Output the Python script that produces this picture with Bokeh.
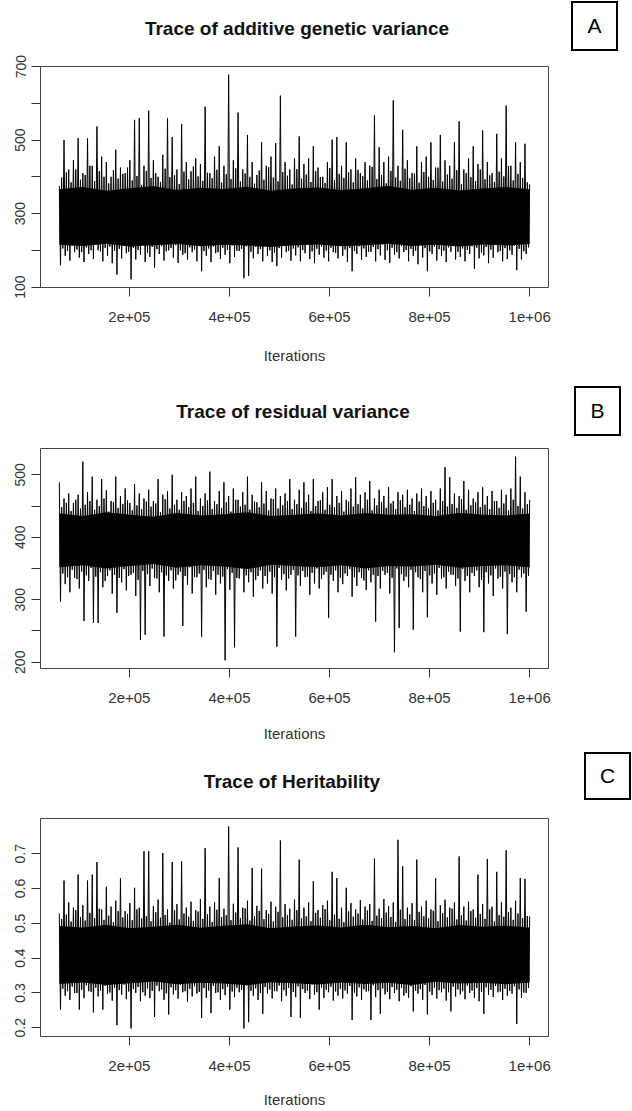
import numpy as np
from bokeh.plotting import figure
from bokeh.layouts import column
from bokeh.models import FixedTicker, Range1d, Div
from bokeh.embed import file_html
from bokeh.resources import INLINE

# ---------------- data ----------------
iterations = np.arange(60000, 1000001, 2350)          # 401 stored MCMC samples
core_iterations = np.arange(60000, 1000001, 47000)    # outline of the dense band

x_ticks = [200000, 400000, 600000, 800000, 1000000]
x_tick_labels = ["2e+05", "4e+05", "6e+05", "8e+05", "1e+06"]
x_label = "Iterations"

# Panel A: additive genetic variance (extremes)
a_title = "Trace of additive genetic variance"
a_tag = "A"
a_peaks = [375, 500, 420, 445, 505, 410, 505, 430, 537, 455,
           440, 400, 474, 425, 410, 445, 555, 560, 430, 580,
           445, 400, 460, 560, 508, 420, 544, 440, 415, 450,
           435, 591, 410, 455, 483, 430, 678, 445, 575, 420,
           514, 440, 405, 494, 430, 455, 492, 621, 440, 420,
           450, 510, 435, 450, 483, 425, 400, 440, 501, 508,
           430, 494, 420, 450, 410, 440, 430, 567, 480, 440,
           455, 608, 430, 528, 445, 410, 483, 440, 455, 494,
           425, 514, 445, 430, 494, 551, 420, 450, 483, 435,
           526, 440, 410, 517, 450, 594, 430, 494, 440, 490,
           380]
a_troughs = [159, 185, 172, 195, 180, 168, 190, 176, 200, 170,
             185, 165, 134, 178, 192, 121, 175, 188, 168, 182,
             153, 190, 172, 200, 180, 166, 188, 175, 195, 170,
             143, 185, 168, 192, 176, 188, 165, 182, 198, 124,
             130, 178, 190, 170, 185, 168, 157, 180, 195, 172,
             186, 170, 192, 176, 165, 188, 180, 170, 195, 178,
             185, 168, 143, 190, 175, 182, 196, 170, 186, 174,
             166, 188, 178, 195, 170, 185, 162, 180, 143, 190,
             172, 185, 168, 196, 175, 182, 170, 190, 150, 178,
             186, 165, 180, 195, 170, 176, 188, 146, 175, 190]
a_inner_peaks = [398, 412, 385, 420, 392, 405, 430, 388, 415, 400,
                 382, 418, 395, 408, 425, 390, 402, 378, 416, 397,
                 410, 386, 422, 399, 404, 380, 414, 393, 428, 401,
                 389, 411, 396, 419, 384, 407, 394, 423, 387, 409,
                 400, 381, 417, 392, 426, 398, 388, 413, 403, 379,
                 421, 395, 406, 386, 415, 399, 383, 424, 391, 408,
                 397, 412, 385, 419, 402, 390, 427, 394, 405, 382,
                 416, 398, 389, 422, 396, 409, 384, 413, 400, 391,
                 425, 387, 406, 395, 418, 380, 410, 399, 388, 420,
                 393, 404, 386, 414, 401, 429, 390, 408, 397, 385]
a_inner_troughs = [205, 198, 212, 202, 195, 208, 200, 215, 197, 206,
                   210, 199, 204, 213, 196, 207, 201, 218, 194, 209,
                   203, 211, 197, 206, 214, 200, 192, 208, 202, 216,
                   198, 205, 210, 195, 207, 201, 213, 199, 204, 211,
                   196, 209, 203, 217, 200, 194, 206, 212, 198, 205,
                   208, 201, 215, 197, 204, 210, 199, 207, 193, 213,
                   202, 206, 198, 211, 205, 196, 209, 203, 216, 200,
                   207, 195, 212, 201, 204, 198, 214, 206, 197, 210,
                   203, 199, 208, 213, 196, 205, 201, 211, 207, 194,
                   209, 202, 215, 198, 206, 200, 212, 204, 197, 208]
a_core_low = [215, 212, 218, 210, 214, 217, 211, 215, 213, 209, 214,
              216, 211, 214, 218, 212, 215, 210, 216, 213, 217]
a_core_high = [366, 372, 362, 369, 374, 364, 370, 367, 373, 362, 368,
               371, 364, 369, 375, 365, 370, 363, 368, 372, 366]
a_y_ticks = [100, 200, 300, 400, 500, 600, 700]
a_y_tick_labels = ["100", "", "300", "", "500", "", "700"]

# Panel B: residual variance
b_title = "Trace of residual variance"
b_tag = "B"
b_peaks = [488, 462, 470, 455, 468, 521, 472, 497, 460, 493,
           475, 458, 497, 466, 478, 455, 485, 470, 462, 476,
           458, 493, 468, 474, 500, 460, 472, 466, 478, 497,
           462, 470, 505, 458, 474, 488, 466, 478, 460, 472,
           497, 468, 456, 488, 474, 462, 478, 466, 470, 493,
           460, 476, 488, 468, 493, 458, 472, 480, 493, 466,
           474, 460, 478, 496, 468, 472, 490, 462, 476, 466,
           480, 458, 472, 468, 476, 462, 470, 478, 466, 474,
           460, 478, 512, 496, 470, 466, 490, 476, 462, 472,
           480, 466, 474, 458, 476, 468, 478, 529, 497, 472,
           460]
b_troughs = [297, 325, 312, 335, 318, 266, 330, 263, 263, 320,
             338, 310, 279, 328, 315, 340, 306, 236, 244, 322,
             335, 312, 241, 330, 318, 340, 258, 324, 310, 336,
             241, 320, 332, 308, 326, 203, 316, 224, 334, 312,
             328, 305, 338, 318, 326, 310, 225, 332, 315, 340,
             241, 322, 336, 308, 326, 318, 340, 271, 330, 312,
             325, 338, 305, 322, 335, 316, 328, 265, 318, 340,
             310, 216, 255, 330, 320, 252, 336, 312, 272, 326,
             308, 334, 318, 340, 322, 249, 330, 312, 338, 320,
             248, 326, 306, 334, 318, 245, 328, 312, 336, 281]
b_inner_peaks = [448, 455, 442, 460, 446, 452, 458, 444, 450, 462,
                 441, 456, 447, 453, 459, 443, 451, 445, 457, 449,
                 454, 440, 461, 446, 452, 444, 458, 448, 455, 442,
                 450, 459, 445, 453, 447, 456, 441, 460, 449, 452,
                 444, 457, 448, 454, 443, 461, 446, 451, 458, 445,
                 453, 447, 456, 442, 450, 459, 444, 452, 448, 455,
                 441, 457, 449, 453, 446, 460, 443, 451, 456, 447,
                 454, 445, 459, 448, 452, 442, 457, 450, 446, 455,
                 443, 458, 449, 453, 447, 461, 444, 451, 456, 448,
                 452, 445, 458, 447, 454, 443, 460, 450, 446, 453]
b_inner_troughs = [342, 336, 348, 333, 345, 339, 351, 337, 344, 330,
                   347, 340, 335, 349, 338, 343, 332, 346, 341, 350,
                   334, 344, 339, 347, 331, 345, 338, 352, 336, 342,
                   348, 333, 346, 340, 337, 349, 343, 335, 350, 339,
                   344, 332, 347, 338, 345, 336, 351, 341, 334, 348,
                   339, 346, 337, 343, 350, 333, 345, 340, 347, 335,
                   342, 349, 336, 344, 331, 347, 340, 338, 346, 343,
                   335, 350, 341, 337, 348, 344, 333, 346, 339, 342,
                   351, 336, 345, 340, 334, 349, 338, 343, 347, 332,
                   344, 339, 350, 337, 345, 341, 336, 348, 342, 338]
b_core_low = [352, 355, 350, 354, 357, 351, 355, 353, 349, 356, 354,
              352, 355, 350, 354, 353, 356, 351, 354, 355, 352]
b_core_high = [438, 434, 440, 436, 433, 439, 435, 437, 440, 434, 436,
               438, 435, 439, 436, 437, 434, 439, 436, 435, 438]
b_y_ticks = [200, 250, 300, 350, 400, 450, 500]
b_y_tick_labels = ["200", "", "300", "", "400", "", "500"]

# Panel C: heritability
c_title = "Trace of Heritability"
c_tag = "C"
c_peaks = [0.528, 0.623, 0.560, 0.545, 0.640, 0.552, 0.623, 0.640, 0.676, 0.540,
           0.605, 0.548, 0.565, 0.630, 0.535, 0.558, 0.602, 0.545, 0.707, 0.707,
           0.550, 0.568, 0.702, 0.540, 0.676, 0.555, 0.678, 0.545, 0.562, 0.538,
           0.570, 0.716, 0.548, 0.560, 0.630, 0.542, 0.778, 0.556, 0.718, 0.545,
           0.565, 0.659, 0.550, 0.657, 0.538, 0.562, 0.548, 0.738, 0.555, 0.542,
           0.568, 0.683, 0.545, 0.560, 0.621, 0.538, 0.552, 0.565, 0.648, 0.630,
           0.545, 0.602, 0.558, 0.540, 0.566, 0.548, 0.555, 0.686, 0.542, 0.570,
           0.550, 0.560, 0.740, 0.664, 0.545, 0.558, 0.683, 0.548, 0.565, 0.540,
           0.630, 0.552, 0.568, 0.545, 0.560, 0.692, 0.548, 0.562, 0.540, 0.640,
           0.555, 0.685, 0.548, 0.648, 0.560, 0.710, 0.545, 0.565, 0.630, 0.628,
           0.520]
c_troughs = [0.252, 0.292, 0.280, 0.300, 0.252, 0.285, 0.305, 0.244, 0.290, 0.252,
             0.298, 0.278, 0.207, 0.295, 0.282, 0.198, 0.300, 0.276, 0.292, 0.285,
             0.231, 0.305, 0.280, 0.238, 0.296, 0.284, 0.302, 0.275, 0.290, 0.298,
             0.228, 0.286, 0.242, 0.300, 0.280, 0.294, 0.252, 0.288, 0.302, 0.198,
             0.216, 0.292, 0.280, 0.240, 0.298, 0.284, 0.305, 0.276, 0.292, 0.231,
             0.288, 0.228, 0.300, 0.282, 0.295, 0.252, 0.286, 0.302, 0.278, 0.292,
             0.284, 0.298, 0.222, 0.290, 0.280, 0.304, 0.222, 0.288, 0.240, 0.296,
             0.282, 0.300, 0.276, 0.292, 0.286, 0.247, 0.298, 0.280, 0.238, 0.294,
             0.284, 0.302, 0.278, 0.247, 0.290, 0.296, 0.282, 0.300, 0.286, 0.276,
             0.240, 0.294, 0.288, 0.302, 0.280, 0.292, 0.298, 0.211, 0.286, 0.300]
c_inner_peaks = [0.512, 0.525, 0.505, 0.538, 0.518, 0.508, 0.530, 0.515, 0.542, 0.510,
                 0.522, 0.503, 0.535, 0.517, 0.527, 0.509, 0.540, 0.514, 0.520, 0.506,
                 0.532, 0.516, 0.524, 0.502, 0.537, 0.511, 0.528, 0.519, 0.507, 0.534,
                 0.513, 0.526, 0.504, 0.539, 0.518, 0.523, 0.509, 0.531, 0.515, 0.543,
                 0.508, 0.521, 0.536, 0.512, 0.527, 0.505, 0.533, 0.517, 0.524, 0.510,
                 0.538, 0.514, 0.520, 0.506, 0.530, 0.516, 0.541, 0.509, 0.525, 0.513,
                 0.503, 0.534, 0.519, 0.528, 0.511, 0.537, 0.507, 0.522, 0.515, 0.531,
                 0.518, 0.504, 0.539, 0.512, 0.526, 0.509, 0.533, 0.520, 0.514, 0.536,
                 0.506, 0.529, 0.517, 0.542, 0.511, 0.523, 0.508, 0.535, 0.516, 0.527,
                 0.513, 0.540, 0.505, 0.524, 0.519, 0.532, 0.510, 0.528, 0.515, 0.521]
c_inner_troughs = [0.312, 0.305, 0.318, 0.300, 0.309, 0.322, 0.303, 0.315, 0.307, 0.320,
                   0.301, 0.314, 0.308, 0.324, 0.304, 0.311, 0.317, 0.302, 0.313, 0.306,
                   0.321, 0.310, 0.299, 0.316, 0.308, 0.323, 0.305, 0.312, 0.319, 0.303,
                   0.314, 0.307, 0.320, 0.302, 0.311, 0.318, 0.304, 0.315, 0.309, 0.322,
                   0.306, 0.313, 0.300, 0.317, 0.310, 0.305, 0.321, 0.308, 0.314, 0.303,
                   0.319, 0.311, 0.306, 0.324, 0.302, 0.315, 0.309, 0.318, 0.304, 0.312,
                   0.307, 0.320, 0.301, 0.316, 0.310, 0.305, 0.322, 0.308, 0.313, 0.303,
                   0.317, 0.309, 0.314, 0.300, 0.319, 0.306, 0.311, 0.323, 0.304, 0.315,
                   0.308, 0.312, 0.302, 0.318, 0.310, 0.305, 0.321, 0.307, 0.314, 0.303,
                   0.316, 0.309, 0.320, 0.304, 0.312, 0.306, 0.319, 0.310, 0.301, 0.315]
c_core_low = [0.326, 0.330, 0.323, 0.328, 0.333, 0.325, 0.329, 0.327, 0.322, 0.331, 0.328,
              0.324, 0.330, 0.326, 0.329, 0.323, 0.332, 0.327, 0.329, 0.325, 0.330]
c_core_high = [0.492, 0.488, 0.495, 0.486, 0.490, 0.496, 0.487, 0.493, 0.497, 0.486, 0.491,
               0.494, 0.488, 0.496, 0.489, 0.492, 0.486, 0.495, 0.490, 0.493, 0.488]
c_y_ticks = [0.2, 0.3, 0.4, 0.5, 0.6, 0.7]
c_y_tick_labels = ["0.2", "0.3", "0.4", "0.5", "0.6", "0.7"]

# ---------------- styling / layout ----------------
FONT = "Liberation Sans"
PAGE_W = 632


def trace_values(peaks, troughs, inner_peaks, inner_troughs):
    n = len(troughs)
    v = np.empty(4 * n + 1)
    v[0::4] = peaks
    v[1::4] = troughs
    v[2::4] = inner_peaks
    v[3::4] = inner_troughs
    return v


def header(title, tag, height, title_center_x, title_center_y, tag_left, tag_top, tag_w, tag_h):
    html = (
        f'<div style="position:relative;width:{PAGE_W}px;height:{height}px;overflow:visible;">'
        f'<div style="position:absolute;left:{title_center_x - 220}px;top:{title_center_y - 12}px;'
        f'width:440px;height:24px;line-height:24px;text-align:center;white-space:nowrap;'
        f"font-family:'{FONT}';font-weight:bold;font-size:19px;color:#111111;\">{title}</div>"
        f'<div style="position:absolute;left:{tag_left}px;top:{tag_top}px;width:{tag_w}px;height:{tag_h}px;'
        f'box-sizing:border-box;border:2.5px solid #000000;background:#ffffff;text-align:center;'
        f"line-height:{tag_h - 5}px;font-family:'{FONT}';font-size:21px;color:#000000;\">{tag}</div>"
        f'</div>'
    )
    return Div(text=html, width=PAGE_W, height=height, margin=(0, 0, 0, 0))


def panel(peaks, troughs, inner_peaks, inner_troughs, core_low, core_high, y_ticks, y_tick_labels,
          height, left, right, top, bottom, label_standoff):
    values = trace_values(peaks, troughs, inner_peaks, inner_troughs)
    x0, x1 = float(iterations[0]), float(iterations[-1])
    xpad = 0.04 * (x1 - x0)
    y0, y1 = float(values.min()), float(values.max())
    ypad = 0.04 * (y1 - y0)

    p = figure(width=PAGE_W, height=height,
               x_range=Range1d(x0 - xpad, x1 + xpad), y_range=Range1d(y0 - ypad, y1 + ypad),
               output_backend="svg", toolbar_location=None,
               min_border_left=left, min_border_right=right,
               min_border_top=top, min_border_bottom=bottom)
    p.xgrid.visible = False
    p.ygrid.visible = False
    p.background_fill_color = "white"
    p.border_fill_color = "white"
    p.outline_line_color = "#444444"
    p.outline_line_width = 1

    p.varea(x=core_iterations, y1=core_low, y2=core_high, fill_color="black")
    p.line(x=iterations, y=values, line_color="black", line_width=1.0)

    for ax in (p.xaxis[0], p.yaxis[0]):
        ax.axis_line_color = None
        ax.major_tick_line_color = "#333333"
        ax.major_tick_out = 9
        ax.major_tick_in = 0
        ax.minor_tick_line_color = None
        ax.major_label_text_font = FONT
        ax.major_label_text_color = "#333333"

    p.xaxis.ticker = FixedTicker(ticks=x_ticks)
    p.xaxis.major_label_overrides = {t: s for t, s in zip(x_ticks, x_tick_labels)}
    p.xaxis.major_label_text_font_size = "15px"
    p.xaxis.major_label_standoff = 15
    p.xaxis.axis_label = x_label
    p.xaxis.axis_label_text_font = FONT
    p.xaxis.axis_label_text_font_size = "15px"
    p.xaxis.axis_label_text_font_style = "normal"
    p.xaxis.axis_label_text_color = "#333333"
    p.xaxis.axis_label_standoff = label_standoff

    p.yaxis.ticker = FixedTicker(ticks=y_ticks)
    p.yaxis.major_label_overrides = {t: s for t, s in zip(y_ticks, y_tick_labels)}
    p.yaxis.major_label_orientation = "vertical"
    p.yaxis.major_label_text_font_size = "14px"
    p.yaxis.major_label_standoff = 6
    return p


ha = header(a_title, a_tag, height=54, title_center_x=297, title_center_y=29,
            tag_left=571, tag_top=1, tag_w=47, tag_h=50)
pa = panel(a_peaks, a_troughs, a_inner_peaks, a_inner_troughs, a_core_low, a_core_high,
           a_y_ticks, a_y_tick_labels,
           height=320, left=40, right=78, top=12, bottom=87, label_standoff=22)
hb = header(b_title, b_tag, height=62, title_center_x=293, title_center_y=38,
            tag_left=574, tag_top=12, tag_w=47, tag_h=50)
pb = panel(b_peaks, b_troughs, b_inner_peaks, b_inner_troughs, b_core_low, b_core_high,
           b_y_ticks, b_y_tick_labels,
           height=309, left=38, right=84, top=12, bottom=77, label_standoff=19)
hc = header(c_title, c_tag, height=61, title_center_x=292, title_center_y=37,
            tag_left=584, tag_top=7, tag_w=47, tag_h=48)
pc = panel(c_peaks, c_troughs, c_inner_peaks, c_inner_troughs, c_core_low, c_core_high,
           c_y_ticks, c_y_tick_labels,
           height=304, left=36, right=84, top=12, bottom=72, label_standoff=17)

layout = column(ha, pa, hb, pb, hc, pc, spacing=0)
open("out.html", "w").write(file_html(layout, INLINE))
